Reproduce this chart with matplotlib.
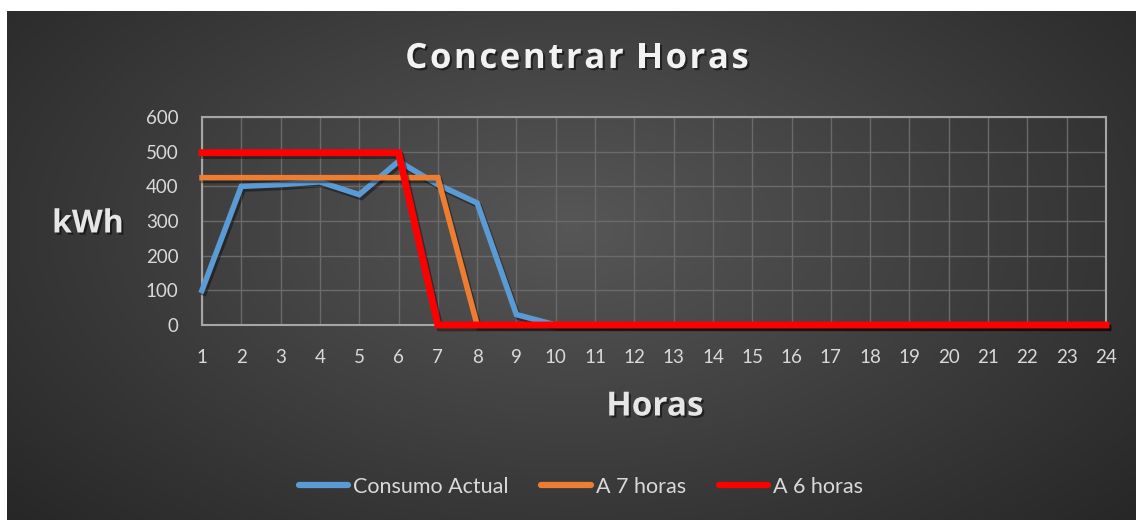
import numpy as np
import matplotlib
matplotlib.use("Agg")
import matplotlib.pyplot as plt
import matplotlib.patheffects as pe

# Data
horas = list(range(1, 25))
consumo_actual = [100, 400, 405, 413, 376, 472, 405, 352, 30] + [0] * 15
a_7_horas = [425] * 7 + [0] * 17
a_6_horas = [497] * 6 + [0] * 18

series = [
    ("Consumo Actual", consumo_actual, "#5b9bd5", 4.0),
    ("A 7 horas", a_7_horas, "#ed7d31", 4.0),
    ("A 6 horas", a_6_horas, "#ff0000", 5.0),
]

plt.rcParams['font.family'] = ['Lato', 'DejaVu Sans']

fig = plt.figure(figsize=(11.36, 5.2), dpi=100)
fig.patch.set_facecolor("white")

# dark radial gradient background
bg = fig.add_axes([7 / 1136, 0, 1 - 7 / 1136, 509 / 520])
bg.set_axis_off()
gx, gy = np.meshgrid(np.linspace(-1, 1, 400), np.linspace(-1, 1, 200))
r = np.sqrt((gx * 0.95) ** 2 + ((gy + 0.15) * 0.75) ** 2)
shade = 0.34 - 0.19 * np.clip(r, 0, 1.3) / 1.3
img = np.dstack([shade, shade, shade])
bg.imshow(img, aspect="auto", extent=[0, 1, 0, 1], interpolation="bilinear")
bg.set_xlim(0, 1)
bg.set_ylim(0, 1)

ax = fig.add_axes([202 / 1136, 195 / 520, 904 / 1136, 208 / 520])
ax.set_facecolor("none")

shadow = [pe.SimpleLineShadow(offset=(1.5, -2), shadow_color="black", alpha=0.4), pe.Normal()]
for name, vals, color, lw in series:
    ax.plot(horas, vals, color=color, lw=lw, label=name, clip_on=False,
            solid_joinstyle="miter", path_effects=shadow, zorder=3)

ax.set_xlim(1, 24)
ax.set_ylim(0, 600)
ax.set_xticks(horas)
ax.set_yticks(range(0, 601, 100))
ax.grid(True, color="#6a6a6a", lw=1, zorder=0)
for s in ax.spines.values():
    s.set_color("#a6a6a6")
    s.set_linewidth(1.5)
ax.tick_params(length=0, colors="#d9d9d9", labelsize=13.5)
ax.tick_params(axis="x", pad=17)
ax.tick_params(axis="y", pad=17)

txt_shadow = [pe.withSimplePatchShadow(offset=(1.5, -1.5), shadow_rgbFace="black", alpha=0.5)]


def spaced_text(s, xc, yc, size, spacing):
    # draw text letter by letter to imitate the wide letter spacing
    renderer = fig.canvas.get_renderer()
    parts = []
    for ch in s:
        t = fig.text(0, yc, ch, ha="left", va="center", fontsize=size,
                     fontweight="bold", family="Open Sans", color="#f2f2f2",
                     path_effects=txt_shadow)
        w = t.get_window_extent(renderer).width if ch != " " else size * 0.3
        parts.append((t, w))
    total = sum(w for _, w in parts) + spacing * (len(parts) - 1)
    x = xc * fig.bbox.width - total / 2
    for t, w in parts:
        t.set_x(x / fig.bbox.width)
        x += w + spacing


spaced_text("Concentrar Horas", 577 / 1136, 1 - 59 / 520, 25, 2.6)
fig.text(88 / 1136, 1 - 224 / 520, "kWh", ha="center", va="center", family="Open Sans",
         fontsize=23, fontweight="bold", color="#e6e6e6", path_effects=txt_shadow)
fig.text(655 / 1136, 1 - 407 / 520, "Horas", ha="center", va="center", family="Open Sans",
         fontsize=24, fontweight="bold", color="#e6e6e6", path_effects=txt_shadow)

leg = fig.legend(loc="center", bbox_to_anchor=(581 / 1136, 1 - 487 / 520), ncol=3,
                 frameon=False, fontsize=15.5, labelcolor="#d9d9d9",
                 handlelength=2.3, handletextpad=0.25, columnspacing=1.5)
for h in leg.get_lines():
    h.set_linewidth(4.5)
    h.set_solid_capstyle("round")
    h.set_path_effects([])

fig.savefig("out.png", dpi=100, facecolor=fig.get_facecolor())
